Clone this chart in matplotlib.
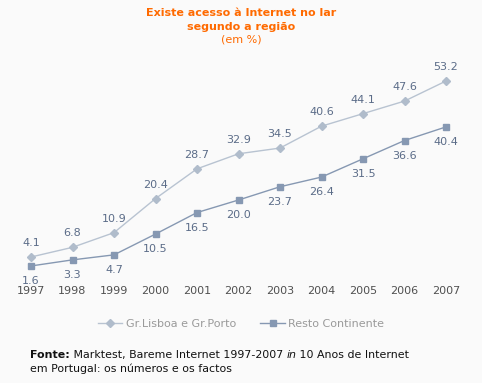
import matplotlib
matplotlib.use("Agg")
import matplotlib.pyplot as plt

years = [1997, 1998, 1999, 2000, 2001, 2002, 2003, 2004, 2005, 2006, 2007]
lisboa_porto = [4.1, 6.8, 10.9, 20.4, 28.7, 32.9, 34.5, 40.6, 44.1, 47.6, 53.2]
resto = [1.6, 3.3, 4.7, 10.5, 16.5, 20.0, 23.7, 26.4, 31.5, 36.6, 40.4]
series_names = ["Gr.Lisboa e Gr.Porto", "Resto Continente"]

BG = "#fafafa"
ORANGE = "#ff6a00"
LIGHT = "#b8c3d1"
DARK = "#8698b2"
LABEL = "#5b6c88"

plt.rcParams["font.family"] = "DejaVu Sans"

fig = plt.figure(figsize=(4.82, 3.83), dpi=100, facecolor=BG)
ax = fig.add_axes([31 / 482, (383 - 271.7) / 383, 415 / 482, 0.5147])
ax.set_facecolor(BG)

ax.plot(years, lisboa_porto, color=LIGHT, lw=1.0, marker="D", ms=4.5,
        mfc="#b0bccb", mec="#b0bccb", label=series_names[0], clip_on=False)
ax.plot(years, resto, color=DARK, lw=1.0, marker="s", ms=5,
        mfc=DARK, mec=DARK, label=series_names[1], clip_on=False)

for x, v in zip(years, lisboa_porto):
    ax.annotate(f"{v:.1f}", (x, v), xytext=(0, 10), textcoords="offset points",
                ha="center", va="center", fontsize=8, color=LABEL)
for x, v in zip(years, resto):
    ax.annotate(f"{v:.1f}", (x, v), xytext=(0, -11), textcoords="offset points",
                ha="center", va="center", fontsize=8, color=LABEL)

ax.set_xlim(1997, 2007)
ax.set_ylim(0, 55)
ax.set_xticks(years)
ax.set_xticklabels([str(y) for y in years], fontsize=8, color="#505050")
ax.tick_params(axis="x", length=0, pad=10)
ax.set_yticks([])
for s in ax.spines.values():
    s.set_visible(False)

# title
fig.text(0.5, 1 - 13 / 383, "Existe acesso à Internet no lar", ha="center", va="center",
         fontsize=8, fontweight="bold", color=ORANGE)
fig.text(0.5, 1 - 27 / 383, "segundo a região", ha="center", va="center",
         fontsize=8, fontweight="bold", color=ORANGE)
fig.text(0.5, 1 - 40 / 383, "(em %)", ha="center", va="center",
         fontsize=8, color=ORANGE)

leg = fig.legend(loc="center", bbox_to_anchor=(0.5, 1 - 324 / 383), ncol=2,
                 frameon=False, fontsize=8, handlelength=2.2, columnspacing=2.2,
                 handletextpad=0.3)
for t in leg.get_texts():
    t.set_color("#9a9a9a")

# footer with mixed styles
renderer = fig.canvas.get_renderer()
def place(parts, x0, y):
    x = x0
    for txt, kw in parts:
        t = fig.text(x, y, txt, ha="left", va="center", fontsize=7.9,
                     color="#111111", **kw)
        bb = t.get_window_extent(renderer)
        x += bb.width / fig.bbox.width

place([("Fonte:", {"fontweight": "bold"}),
       (" Marktest, Bareme Internet 1997-2007 ", {}),
       ("in", {"style": "italic"}),
       (" 10 Anos de Internet", {})], 30 / 482, 1 - 355 / 383)
place([("em Portugal: os números e os factos", {})], 30 / 482, 1 - 369 / 383)

fig.savefig("out.png", dpi=100, facecolor=BG)
